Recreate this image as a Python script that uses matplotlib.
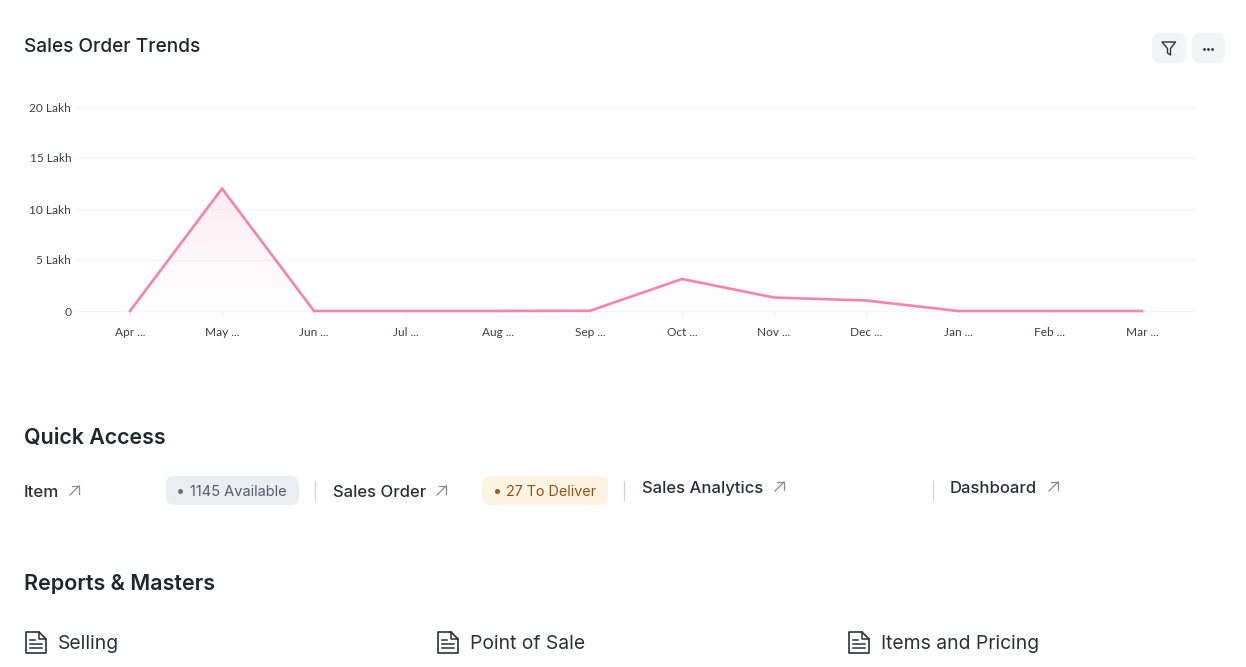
import numpy as np
import matplotlib
matplotlib.use("Agg")
import matplotlib.pyplot as plt
from matplotlib.patches import FancyBboxPatch, Polygon
from matplotlib.lines import Line2D

months = ["Apr ...", "May ...", "Jun ...", "Jul ...", "Aug ...", "Sep ...",
          "Oct ...", "Nov ...", "Dec ...", "Jan ...", "Feb ...", "Mar ..."]
sales_lakh = [0, 12.0, 0, 0, 0, 0.02, 3.14, 1.32, 1.03, 0, 0, 0]
y_ticks = [0, 5, 10, 15, 20]
y_tick_labels = ["0", "5 Lakh", "10 Lakh", "15 Lakh", "20 Lakh"]

W, H = 1246, 667
fig = plt.figure(figsize=(W / 100, H / 100), dpi=100, facecolor="white")
plt.rcParams['font.family'] = ['Inter', 'DejaVu Sans']

ui = fig.add_axes([0, 0, 1, 1], zorder=3)
ui.set_xlim(0, W); ui.set_ylim(H, 0); ui.axis("off"); ui.patch.set_alpha(0)

left, right, top, bottom = 76, 1196, 107, 311
ax = fig.add_axes([left / W, 1 - bottom / H, (right - left) / W, (bottom - top) / H], zorder=1)
x = np.arange(len(months))
for s in ax.spines.values():
    s.set_visible(False)
ax.patch.set_alpha(0)
for t in y_ticks:
    ax.axhline(t, color="#f5f5f5", lw=0.9, zorder=1, clip_on=False)
ax.set_yticks(y_ticks, y_tick_labels, fontsize=8.6, color="#383f47", family="Lato")
ax.set_xticks(x, months, fontsize=8.6, color="#383f47", family="Lato", va="baseline")
ax.tick_params(axis="y", length=0, pad=3.5)
ax.tick_params(axis="x", length=4, width=0.8, color="#f0f0f0", pad=14)

grad = np.zeros((256, 2, 4))
grad[..., 0] = 0xF6 / 255; grad[..., 1] = 0x83 / 255; grad[..., 2] = 0xAE / 255
grad[..., 3] = np.linspace(0.15, 0.0, 256)[:, None]
im = ax.imshow(grad, extent=[x[0], x[-1], 0, max(sales_lakh)], aspect="auto", origin="upper", zorder=2)
ax.set_xlim((left - 130) / 92, (right - 130) / 92)
ax.set_ylim(0, 20)
poly = Polygon(list(zip(x, sales_lakh)) + [(x[-1], 0), (x[0], 0)], closed=True,
               transform=ax.transData, fc="none", ec="none")
ax.add_patch(poly)
im.set_clip_path(poly)
ax.plot(x, sales_lakh, color="#f683ae", lw=1.9, zorder=3, solid_joinstyle="miter", clip_on=False)

DARK = "#1f272e"
ITEM = "#2a3138"
def txt(px, py, s, size, color=DARK, weight="normal", ha="left"):
    ui.text(px, py, s, fontsize=size, color=color, fontweight=weight, ha=ha, va="center_baseline")

def rbox(x0, y0, w, h, r, fc):
    ui.add_patch(FancyBboxPatch((x0 + r, y0 + r), w - 2 * r, h - 2 * r,
                                boxstyle=f"round,pad={r},rounding_size={r}", fc=fc, ec="none"))

def arrow(px, py):
    c = "#8a8a8a"
    ui.add_line(Line2D([px, px + 9], [py + 9, py], color=c, lw=0.9))
    ui.add_line(Line2D([px + 1.5, px + 9, px + 9], [py, py, py + 7.5], color=c, lw=0.9))

def doc_icon(px, py):
    c = "#2c3238"
    ui.add_patch(Polygon([(px, py), (px + 13, py), (px + 20, py + 7), (px + 20, py + 21), (px, py + 21)],
                         closed=True, fc="none", ec=c, lw=1.2, joinstyle="round"))
    ui.add_line(Line2D([px + 13, px + 13, px + 20], [py, py + 7, py + 7], color=c, lw=1.1))
    ui.add_line(Line2D([px + 4, px + 9], [py + 7.5, py + 7.5], color=c, lw=1.1))
    for dy in (11.5, 15.5):
        ui.add_line(Line2D([px + 4, px + 16], [py + dy, py + dy], color=c, lw=1.1))

txt(24, 45.5, "Sales Order Trends", 13.7, weight="medium")

rbox(1152, 33, 34, 30, 8, "#f3f4f6")
rbox(1192, 33, 33, 30, 8, "#f3f4f6")
ui.add_patch(Polygon([(1162, 42), (1175.5, 42), (1170.5, 48.5), (1170.5, 55), (1167.5, 53), (1167.5, 48.5)],
                     closed=True, fc="none", ec="#2c3238", lw=1.0, joinstyle="round"))
ui.plot([1204, 1208, 1212], [49, 49, 49], ls="none", marker="o", ms=2.0, mew=0, color="#2c3238")

SEP = "#cdd2d7"
txt(24, 436, "Quick Access", 15.4, weight="semibold")
txt(24, 491, "Item", 12.2, color=ITEM, weight="medium")
arrow(70, 486)
rbox(166, 476, 133, 29, 8, "#ebeef0")
ui.plot([180], [491], marker="o", ms=2.6, color="#68727c")
txt(190, 491, "1145 Available", 10.5, color="#526070")
ui.add_line(Line2D([315, 315], [481, 500], color=SEP, lw=0.9))
txt(333, 491, "Sales Order", 12, color=ITEM, weight="medium")
arrow(437, 486)
rbox(482, 476, 126, 29, 8, "#fff4e2")
ui.plot([497], [491], marker="o", ms=2.6, color="#9c5a1c")
txt(506, 491, "27 To Deliver", 10.3, color="#914e14")
ui.add_line(Line2D([624, 624], [481, 500], color=SEP, lw=0.9))
txt(642, 487, "Sales Analytics", 12, color=ITEM, weight="medium")
arrow(775, 482)
ui.add_line(Line2D([933, 933], [481, 500], color=SEP, lw=0.9))
txt(950, 487, "Dashboard", 12, color=ITEM, weight="medium")
arrow(1049, 482)

txt(24, 581.5, "Reports & Masters", 15.5, weight="semibold")
for ix, tx, label in [(26, 58, "Selling"), (438, 470, "Point of Sale"), (849, 881, "Items and Pricing")]:
    doc_icon(ix, 632)
    txt(tx, 642, label, 13.9, color=ITEM)

fig.savefig("out.png", dpi=100, facecolor="white")
